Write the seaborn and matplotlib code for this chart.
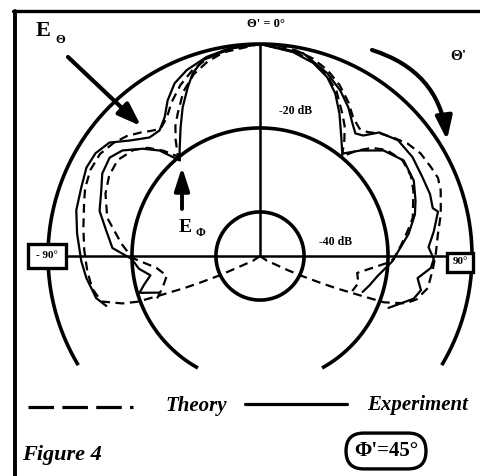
import numpy as np
import matplotlib.pyplot as plt
import seaborn as sns
from matplotlib.patches import FancyArrowPatch
from matplotlib.lines import Line2D

sns.set_style("white")
plt.rcParams['font.family'] = ['Liberation Serif', 'DejaVu Serif']

# pattern levels (dB) and how far each ring is drawn (deg from broadside)
ring_db = [0, -20, -40]
ring_span = [121, 151, 180]
r_min = -50.5

# E_theta, theory (dashed)
eth_theo_ang = [-130, -124, -119, -116.5, -115.5, -114, -113, -111.5, -110.5, -109, -106, -101, -95,
                -88, -81, -72.6, -68.7, -63, -57.5, -52.5, -48, -44, -41, -38, -34, -30, -25, -20,
                -15, -10, -5, 0, 5, 10, 15, 20, 25, 30, 34, 38, 41, 44.5, 48.5, 52.7, 57.5, 62.6,
                66.3, 70, 77, 83, 89, 94.3, 100.8, 105.5, 108, 110.5, 111.5, 113, 114, 115.5, 117,
                119, 124, 130]
eth_theo_db = [-50.5, -48.5, -46.5, -43, -39.5, -35, -31, -25, -19.4, -15.8, -11.2, -9.8, -9.2,
               -8.6, -7.9, -6.6, -5.8, -5.2, -5.3, -6.4, -7.8, -9.6, -11, -12, -10.8, -8.3, -5.6,
               -3.4, -1.8, -0.8, -0.2, 0, -0.2, -0.8, -1.8, -3.4, -5.6, -8.3, -10.8, -12, -11.4,
               -9.6, -8, -6.3, -5.1, -4.6, -4.2, -4.7, -6.3, -7.8, -8.6, -9.2, -9.8, -11.8, -14,
               -19, -25, -31, -35, -39.5, -43, -46.5, -48.5, -50.5]

# E_theta, experiment (solid)
eth_exp_ang = [-108, -104.4, -100.8, -97.2, -91.6, -83, -76, -69, -63, -58, -53, -48.5, -43, -38.7,
               -34.5, -30.7, -26.3, -21.5, -15, -8.2, 0, 12, 20.2, 25.9, 30.7, 34.9, 37.9, 40.6, 44,
               50, 57, 64, 70, 74.5, 76, 82, 87, 91, 94, 98, 102, 105.5, 110.5, 112]
eth_exp_db = [-12, -10.2, -9.6, -8.8, -7.9, -6.6, -5.4, -4.9, -4.1, -4.3, -5.6, -9, -11.9, -12.2,
              -10.4, -7.4, -4.6, -2.9, -1.4, -0.5, 0, -1.1, -4.1, -6.7, -9.3, -12, -13.5, -12.7,
              -9.6, -7.6, -7.2, -7.5, -7.4, -7.8, -6.8, -8.7, -10.3, -9.1, -9.7, -12.6, -11.3,
              -12.5, -16.5, -17.5]

# E_phi, theory (dashed)
eph_theo_ang = [-112.4, -108, -102, -96.6, -90.9, -85, -76, -68, -62, -56, -50, -46, -42.5, -39.5,
                -36, -33, -30, -25, -20, -15, -10, 0, 10, 15, 20, 25, 30, 33, 36, 39.5, 42.5, 46,
                50, 56, 62, 67, 76, 80.3, 85.9, 91.3, 93, 99.9, 105.4, 110.8]
eph_theo_db = [-24, -26.1, -27.8, -25.7, -20.1, -17.4, -13, -10.8, -9.8, -9.6, -11.2, -13.4, -16.5,
               -19.8, -16.3, -13.5, -11.3, -7.3, -4.4, -2.5, -1.2, 0, -1.2, -2.5, -4.4, -7.3,
               -11.3, -13.5, -16.3, -19.8, -16.5, -13.4, -11.2, -9.6, -9.8, -10.8, -13, -14.8,
               -16.9, -18.7, -20, -27, -26.2, -27]

# E_phi, experiment (solid)
eph_exp_ang = [-110, -107, -104, -100, -96, -91.3, -86.9, -80.7, -74.3, -67.6, -62.4, -56.8, -52.5,
               -47.6, -43.6, -40, -37.3, -31.7, -27.5, -23.2, -20.2, -16.3, -8, 0, 9.2, 15.4, 20.6,
               24.8, 29.1, 34.5, 38.8, 43.6, 49.5, 56.4, 63.9, 70.5, 75, 81.5, 87.9, 92.2, 99.7,
               105, 109.3]
eph_exp_db = [-25, -20.5, -22, -24, -21.5, -19.9, -15.3, -13.4, -10.8, -9.6, -8.1, -7.7, -9.2,
              -12.6, -15.8, -20.8, -18.9, -14.5, -10.6, -6.8, -4.1, -1.9, -0.6, 0, -1.3, -2.8, -5,
              -7.8, -11.6, -16.3, -19.2, -15.8, -11.8, -9.4, -9.7, -11.2, -12.3, -14.7, -17.5,
              -18.9, -22.1, -23.5, -24.6]

W, H = 481, 476
fig = plt.figure(figsize=(W / 100, H / 100), dpi=100)


def fx(x):
    return x / W


def fy(y):
    return 1 - y / H


# polar axes: centre at pixel (260, 256), 0 dB ring radius 212 px
ax = fig.add_axes([fx(48), fy(468), 424 / W, 424 / H], projection='polar')
ax.set_theta_zero_location('N')
ax.set_theta_direction(-1)

for lev, span in zip(ring_db, ring_span):
    t = np.linspace(-span, span, 500)
    ax.plot(np.deg2rad(t), np.full_like(t, lev), color='k', lw=2.6, clip_on=False,
            solid_capstyle='butt')

ax.plot([0, 0], [r_min, 0], color='k', lw=1.8)
ax.plot([-np.pi / 2, -np.pi / 2], [r_min, -4], color='k', lw=1.8, clip_on=False)
ax.plot([np.pi / 2, np.pi / 2], [r_min, -4], color='k', lw=1.8, clip_on=False)

dash = (0, (4, 2.5))
for ang, db, ls in [(eth_theo_ang, eth_theo_db, dash), (eth_exp_ang, eth_exp_db, '-'),
                    (eph_theo_ang, eph_theo_db, dash), (eph_exp_ang, eph_exp_db, '-')]:
    sns.lineplot(x=np.deg2rad(ang), y=db, sort=False, estimator=None, ax=ax, color='k',
                 lw=1.6, linestyle=ls)
ax.set_ylim(r_min, 0)
ax.axis('off')

# frame
fig.add_artist(Line2D([fx(13), fx(481)], [fy(11), fy(11)], color='k', lw=2.4))
fig.add_artist(Line2D([fx(15), fx(15)], [fy(11), fy(476)], color='k', lw=2.8))

# labels
bold = dict(fontweight='bold', color='k')
fig.text(fx(36), fy(31), "E", fontsize=16, ha='left', va='center', **bold)
fig.text(fx(55), fy(40), "Θ", fontsize=9, ha='left', va='center', **bold)
fig.text(fx(179), fy(227), "E", fontsize=14, ha='left', va='center', **bold)
fig.text(fx(195), fy(233), "Φ", fontsize=8.5, ha='left', va='center', **bold)
fig.text(fx(266), fy(24), "Θ' = 0°", fontsize=9, ha='center', va='center', **bold)
fig.text(fx(458), fy(56), "Θ'", fontsize=11, ha='center', va='center', **bold)
fig.text(fx(296), fy(111), "-20 dB", fontsize=8.5, ha='center', va='center', **bold)
fig.text(fx(336), fy(242), "-40 dB", fontsize=8.5, ha='center', va='center', **bold)

fig.text(fx(47), fy(256), "- 90°", fontsize=8, ha='center', va='center',
         bbox=dict(boxstyle='square,pad=0.7', fc='white', ec='k', lw=2.4), zorder=5, **bold)
fig.text(fx(460), fy(262), "90°", fontsize=8, ha='center', va='center',
         bbox=dict(boxstyle='square,pad=0.45', fc='white', ec='k', lw=2.4), zorder=5, **bold)

# arrows
fig.add_artist(FancyArrowPatch((fx(68), fy(57)), (fx(141), fy(126)), transform=fig.transFigure,
                               arrowstyle='-|>,head_length=14,head_width=5', lw=3, color='k',
                               shrinkA=0, shrinkB=0))
fig.add_artist(FancyArrowPatch((fx(182), fy(209)), (fx(182), fy(167)), transform=fig.transFigure,
                               arrowstyle='-|>,head_length=14,head_width=4.5', lw=2.8, color='k',
                               shrinkA=0, shrinkB=0))
fig.add_artist(FancyArrowPatch((fx(372), fy(50)), (fx(447), fy(140)), transform=fig.transFigure,
                               connectionstyle='arc3,rad=-0.32',
                               arrowstyle='-|>,head_length=14,head_width=5', lw=3, color='k',
                               shrinkA=0, shrinkB=0))

# legend
fig.add_artist(Line2D([fx(28), fx(133)], [fy(407), fy(407)], color='k', lw=2.3,
                      linestyle=(0, (8, 2.6))))
fig.add_artist(Line2D([fx(245), fx(347)], [fy(404), fy(404)], color='k', lw=2.3))
fig.text(fx(165), fy(406), "Theory", fontsize=15, style='italic', ha='left', va='center', **bold)
fig.text(fx(367), fy(405), "Experiment", fontsize=15, style='italic', ha='left', va='center',
         **bold)
fig.text(fx(22), fy(455), "Figure 4", fontsize=16, style='italic', ha='left', va='center', **bold)
fig.text(fx(386), fy(451), "Φ'=45°", fontsize=15, ha='center', va='center',
         bbox=dict(boxstyle='round,pad=0.38,rounding_size=0.85', fc='white', ec='k', lw=2.4),
         **bold)

fig.savefig('out.png', dpi=100, facecolor='white')
